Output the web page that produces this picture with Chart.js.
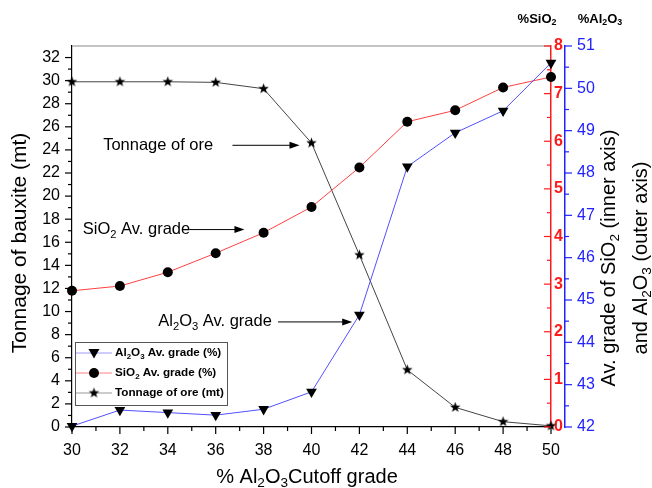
<!DOCTYPE html>
<html>
<head>
<meta charset="utf-8">
<script src="https://cdn.jsdelivr.net/npm/chart.js@4.4.1/dist/chart.umd.min.js"></script>
<style>
  html, body { margin: 0; padding: 0; background: #fff; }
  #wrap { width: 652px; height: 488px; }
</style>
</head>
<body>
<div id="wrap"><canvas id="chart" width="652" height="488"></canvas></div>
<script>
// Data
const cutoff = [30, 32, 34, 36, 38, 40, 42, 44, 46, 48, 50];
const tonnage = [29.9, 29.9, 29.9, 29.85, 29.3, 24.6, 14.9, 4.95, 1.7, 0.46, 0.1];
const sio2Grade = [2.86, 2.96, 3.25, 3.65, 4.08, 4.62, 5.45, 6.41, 6.65, 7.13, 7.35];
const al2o3Grade = [42.02, 42.40, 42.34, 42.28, 42.42, 42.83, 44.65, 48.15, 48.95, 49.47, 50.6];

// Tick labels
const xTicks = [30, 32, 34, 36, 38, 40, 42, 44, 46, 48, 50];
const tonnageTicks = [0, 2, 4, 6, 8, 10, 12, 14, 16, 18, 20, 22, 24, 26, 28, 30, 32];
const sio2Ticks = [0, 1, 2, 3, 4, 5, 6, 7, 8];
const al2o3Ticks = [42, 43, 44, 45, 46, 47, 48, 49, 50, 51];

const FONT = "'Liberation Sans', Arial, sans-serif";
const RED = '#ff1a1a';
const BLUE = '#2222ff';

// Filled five point star used as marker
function starImage(r) {
  const c = document.createElement('canvas');
  const s = Math.ceil(r * 2 + 2);
  c.width = s; c.height = s;
  const g = c.getContext('2d');
  g.beginPath();
  for (let i = 0; i < 10; i++) {
    const rad = i % 2 === 0 ? r : r * 0.42;
    const a = -Math.PI / 2 + i * Math.PI / 5;
    const px = s / 2 + rad * Math.cos(a), py = s / 2 + rad * Math.sin(a);
    if (i === 0) g.moveTo(px, py); else g.lineTo(px, py);
  }
  g.closePath();
  g.fillStyle = '#000';
  g.fill();
  return c;
}
const star = starImage(5.5);

function pts(ys) {
  return cutoff.map((x, i) => ({ x: x, y: ys[i] }));
}

// Text with subscripts: parts = [[text, isSub], ...]
function richWidth(ctx, parts, size, weight) {
  let w = 0;
  parts.forEach(p => {
    ctx.font = `${weight} ${p[1] ? size * 0.68 : size}px ${FONT}`;
    w += ctx.measureText(p[0]).width;
  });
  return w;
}

function drawRich(ctx, parts, x, y, o) {
  const size = o.size, weight = o.weight || 'normal';
  ctx.save();
  ctx.translate(x, y);
  if (o.rot) ctx.rotate(o.rot);
  const w = richWidth(ctx, parts, size, weight);
  let cx = o.align === 'center' ? -w / 2 : 0;
  ctx.fillStyle = o.color || '#000';
  ctx.textBaseline = 'middle';
  ctx.textAlign = 'left';
  parts.forEach(p => {
    ctx.font = `${weight} ${p[1] ? size * 0.68 : size}px ${FONT}`;
    ctx.fillText(p[0], cx, p[1] ? size * 0.3 : 0);
    cx += ctx.measureText(p[0]).width;
  });
  ctx.restore();
}

function arrow(ctx, x1, y, x2) {
  ctx.save();
  ctx.strokeStyle = '#000';
  ctx.fillStyle = '#000';
  ctx.lineWidth = 1;
  ctx.beginPath();
  ctx.moveTo(x1, y);
  ctx.lineTo(x2 - 8, y);
  ctx.stroke();
  ctx.beginPath();
  ctx.moveTo(x2, y);
  ctx.lineTo(x2 - 10, y - 3.5);
  ctx.lineTo(x2 - 10, y + 3.5);
  ctx.closePath();
  ctx.fill();
  ctx.restore();
}

function tickMarks(ctx, from, to, step, majorEvery, pos, draw) {
  for (let v = from; v <= to + 1e-9; v += step) {
    const major = Math.abs(v / majorEvery - Math.round(v / majorEvery)) < 1e-6;
    draw(pos(v), major ? 7 : 4);
  }
}

const decor = {
  id: 'decor',
  afterDatasetsDraw(chart) {
    const { ctx, chartArea: a, scales } = chart;
    const xs = scales.x, yt = scales.y, ys = scales.y1, ya = scales.y2;

    // top frame line
    ctx.save();
    ctx.strokeStyle = '#8a8a8a';
    ctx.lineWidth = 1.2;
    ctx.beginPath();
    ctx.moveTo(a.left, a.top);
    ctx.lineTo(a.right, a.top);
    ctx.stroke();

    ctx.lineWidth = 1.2;
    // x ticks (outward)
    ctx.strokeStyle = '#000';
    tickMarks(ctx, 30, 50, 1, 2, v => xs.getPixelForValue(v), (p, l) => {
      ctx.beginPath(); ctx.moveTo(p, a.bottom); ctx.lineTo(p, a.bottom + l); ctx.stroke();
    });
    // left ticks (outward)
    tickMarks(ctx, 0, 32, 1, 2, v => yt.getPixelForValue(v), (p, l) => {
      ctx.beginPath(); ctx.moveTo(a.left, p); ctx.lineTo(a.left - l, p); ctx.stroke();
    });
    // SiO2 ticks (inward)
    ctx.strokeStyle = RED;
    tickMarks(ctx, 0, 8, 0.5, 1, v => ys.getPixelForValue(v), (p, l) => {
      ctx.beginPath(); ctx.moveTo(ys.left, p); ctx.lineTo(ys.left - l, p); ctx.stroke();
    });
    // Al2O3 ticks (outward)
    ctx.strokeStyle = BLUE;
    tickMarks(ctx, 42, 51, 0.5, 1, v => ya.getPixelForValue(v), (p, l) => {
      ctx.beginPath(); ctx.moveTo(ya.left, p); ctx.lineTo(ya.left + l, p); ctx.stroke();
    });
    ctx.restore();

    // annotations, anchored on x scale and tonnage scale
    const ax = v => xs.getPixelForValue(v), ay = v => yt.getPixelForValue(v);
    drawRich(ctx, [['Tonnage of ore']], ax(31.3), ay(24.4), { size: 16.5 });
    arrow(ctx, ax(36.7), ay(24.4), ax(39.5));
    drawRich(ctx, [['SiO'], ['2', 1], [' Av. grade']], ax(30.45), ay(17.1), { size: 16.5 });
    arrow(ctx, ax(34.9), ay(17.1), ax(37.2));
    drawRich(ctx, [['Al'], ['2', 1], ['O'], ['3', 1], [' Av. grade']], ax(33.6), ay(9.1), { size: 16.5 });
    arrow(ctx, ax(38.6), ay(9.1), ax(41.7));

    // legend box
    const lx = 75, lt = 342, lw = 152, lh = 63;
    ctx.save();
    ctx.fillStyle = '#fff';
    ctx.fillRect(lx, lt, lw, lh);
    ctx.strokeStyle = '#555';
    ctx.lineWidth = 1;
    ctx.strokeRect(lx + 0.5, lt + 0.5, lw, lh);
    const entries = [
      { color: '#9a9aff', parts: [['Al'], ['2', 1], ['O'], ['3', 1], [' Av. grade (%)']], mark: 'tri' },
      { color: '#ff8080', parts: [['SiO'], ['2', 1], [' Av. grade (%)']], mark: 'circ' },
      { color: '#999', parts: [['Tonnage of ore (mt)']], mark: 'star' }
    ];
    entries.forEach((e, i) => {
      const y = lt + 11 + i * 20;
      ctx.strokeStyle = e.color;
      ctx.lineWidth = 1;
      ctx.beginPath(); ctx.moveTo(lx + 1, y); ctx.lineTo(lx + 37, y); ctx.stroke();
      const mx = lx + 19;
      ctx.fillStyle = '#000';
      if (e.mark === 'tri') {
        ctx.beginPath(); ctx.moveTo(mx - 5.5, y - 4); ctx.lineTo(mx + 5.5, y - 4); ctx.lineTo(mx, y + 5.5); ctx.closePath(); ctx.fill();
      } else if (e.mark === 'circ') {
        ctx.beginPath(); ctx.arc(mx, y, 5, 0, Math.PI * 2); ctx.fill();
      } else {
        ctx.drawImage(star, mx - star.width / 2, y - star.height / 2);
      }
      drawRich(ctx, e.parts, lx + 40, y, { size: 11.7, weight: 'bold' });
    });
    ctx.restore();

    // axis titles
    drawRich(ctx, [['Tonnage of bauxite (mt)']], 20, 243, { size: 21, align: 'center', rot: -Math.PI / 2 });
    drawRich(ctx, [['% Al'], ['2', 1], ['O'], ['3', 1], ['Cutoff grade']], 307, 477, { size: 20, align: 'center' });
    drawRich(ctx, [['Av. grade of SiO'], ['2', 1], [' (inner axis)']], 609, 258, { size: 20, align: 'center', rot: -Math.PI / 2 });
    drawRich(ctx, [['and Al'], ['2', 1], ['O'], ['3', 1], [' (outer axis)']], 641, 258, { size: 20, align: 'center', rot: -Math.PI / 2 });
    drawRich(ctx, [['%SiO'], ['2', 1]], 537, 19, { size: 13, weight: 'bold', align: 'center' });
    drawRich(ctx, [['%Al'], ['2', 1], ['O'], ['3', 1]], 600, 19, { size: 13, weight: 'bold', align: 'center' });
  }
};

const baseDs = {
  borderWidth: 1,
  pointBackgroundColor: '#000',
  pointBorderColor: '#000',
  pointBorderWidth: 0,
  tension: 0,
  clip: false
};

new Chart(document.getElementById('chart'), {
  type: 'line',
  data: {
    datasets: [
      Object.assign({}, baseDs, {
        label: 'Al2O3 Av. grade (%)',
        data: pts(al2o3Grade),
        yAxisID: 'y2',
        borderColor: '#5050ff',
        pointStyle: 'triangle',
        rotation: 180,
        pointRadius: 6.2
      }),
      Object.assign({}, baseDs, {
        label: 'SiO2 Av. grade (%)',
        data: pts(sio2Grade),
        yAxisID: 'y1',
        borderColor: '#ff4040',
        pointStyle: 'circle',
        pointRadius: 5
      }),
      Object.assign({}, baseDs, {
        label: 'Tonnage of ore (mt)',
        data: pts(tonnage),
        yAxisID: 'y',
        borderColor: '#444',
        pointStyle: star,
        pointRadius: 5
      })
    ]
  },
  options: {
    responsive: false,
    animation: false,
    events: [],
    layout: { padding: { top: 46, left: 0, right: 0, bottom: 0 } },
    plugins: { legend: { display: false }, tooltip: { enabled: false } },
    scales: {
      x: {
        type: 'linear',
        min: 30, max: 50,
        afterBuildTicks: s => { s.ticks = xTicks.map(v => ({ value: v })); },
        afterFit: s => { s.height = 61; },
        grid: { drawOnChartArea: false, drawTicks: false },
        border: { color: '#000', width: 1.2 },
        ticks: { color: '#000', padding: 14, font: { family: FONT, size: 16 } }
      },
      y: {
        position: 'left',
        min: 0, max: 33,
        afterBuildTicks: s => { s.ticks = tonnageTicks.map(v => ({ value: v })); },
        afterFit: s => { s.width = 72; },
        grid: { drawOnChartArea: false, drawTicks: false },
        border: { color: '#000', width: 1.2 },
        ticks: { color: '#000', padding: 12, font: { family: FONT, size: 16 } }
      },
      y1: {
        position: 'right',
        min: 0, max: 8,
        afterBuildTicks: s => { s.ticks = sio2Ticks.map(v => ({ value: v })); },
        afterFit: s => { s.width = 14; },
        grid: { drawOnChartArea: false, drawTicks: false },
        border: { color: RED, width: 1.5 },
        ticks: { color: RED, mirror: true, padding: 12, font: { family: FONT, size: 16, weight: 'bold' } }
      },
      y2: {
        position: 'right',
        min: 42, max: 51,
        afterBuildTicks: s => { s.ticks = al2o3Ticks.map(v => ({ value: v })); },
        afterFit: s => { s.width = 87; },
        grid: { drawOnChartArea: false, drawTicks: false },
        border: { color: BLUE, width: 1.5 },
        ticks: { color: BLUE, padding: 12, font: { family: FONT, size: 16 } }
      }
    }
  },
  plugins: [decor]
});
</script>
</body>
</html>
